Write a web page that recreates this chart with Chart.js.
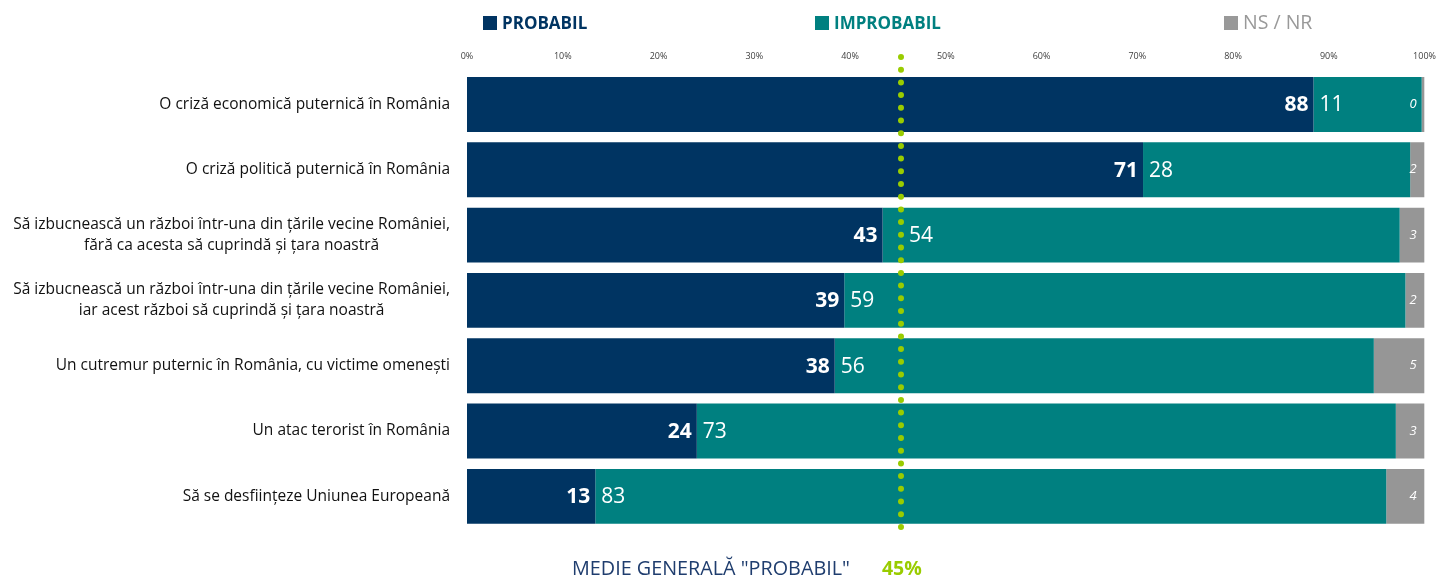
<!DOCTYPE html>
<html>
<head>
<meta charset="utf-8">
<script src="https://cdn.jsdelivr.net/npm/chart.js@4"></script>
<style>
  html, body { margin: 0; padding: 0; background: #fff; }
  body { width: 1438px; height: 579px; position: relative; overflow: hidden; font-family: "Open Sans", sans-serif; }
  #wrap { position: absolute; left: 0; top: 0; width: 1438px; height: 579px; }
  .leg { position: absolute; top: 11px; font-size: 17px; line-height: 24px; white-space: nowrap; }
  .leg i { display: inline-block; width: 14px; height: 14px; margin-right: 5px; vertical-align: -1px; }
  #foot { position: absolute; top: 555px; left: 572px; font-size: 19.8px; line-height: 26px; color: #1f3d6e; white-space: nowrap; }
  #foot b { color: #99cc00; margin-left: 32px; font-size: 19.5px; }
</style>
</head>
<body>
<div id="wrap"><canvas id="chart" width="1438" height="579"></canvas></div>
<div class="leg" style="left:483px;color:#003462;font-weight:700"><i style="background:#003462"></i>PROBABIL</div>
<div class="leg" style="left:815px;color:#008080;font-weight:700"><i style="background:#008080"></i>IMPROBABIL</div>
<div class="leg" style="left:1224px;color:#999;font-size:19.5px;top:10px"><i style="background:#999"></i>NS / NR</div>
<div id="foot">MEDIE GENERALĂ "PROBABIL"<b>45%</b></div>
<script>
const categories = [
    ["O criză economică puternică în România"],
    ["O criză politică puternică în România"],
    ["Să izbucnească un război într-una din țările vecine României,", "fără ca acesta să cuprindă și țara noastră"],
    ["Să izbucnească un război într-una din țările vecine României,", "iar acest război să cuprindă și țara noastră"],
    ["Un cutremur puternic în România, cu victime omenești"],
    ["Un atac terorist în România"],
    ["Să se desființeze Uniunea Europeană"]
];
const probabil = [88.4, 70.6, 43.4, 39.4, 38.4, 24.0, 13.4];
const improbabil = [11.3, 27.9, 54.0, 58.6, 56.3, 73.0, 82.6];
const nsnr = [0.3, 1.5, 2.6, 2.0, 5.3, 3.0, 4.0];
const xTicks = [0, 10, 20, 30, 40, 50, 60, 70, 80, 90, 100];
const average = 45;

const FONT = '"Open Sans", sans-serif';

// category labels, multi-line ones centred on each other
const labelsPlugin = {
    id: "catLabels",
    afterDraw(chart) {
        const ctx = chart.ctx;
        const y = chart.scales.y;
        ctx.save();
        ctx.font = "15.5px " + FONT;
        ctx.fillStyle = "#111";
        ctx.textBaseline = "middle";
        ctx.textAlign = "center";
        const right = 450;
        categories.forEach((lines, i) => {
            const cy = y.getPixelForValue(i);
            const w = Math.max(...lines.map(l => ctx.measureText(l).width));
            const cx = right - w / 2;
            const lh = 21;
            lines.forEach((l, j) => {
                ctx.fillText(l, cx, cy + (j - (lines.length - 1) / 2) * lh);
            });
        });
        ctx.restore();
    }
};

// values inside the bars
const valuesPlugin = {
    id: "barValues",
    afterDatasetsDraw(chart) {
        const ctx = chart.ctx;
        const avgX = chart.scales.x.getPixelForValue(average) + 3;
        ctx.save();
        ctx.fillStyle = "#fff";
        ctx.textBaseline = "middle";
        chart.getDatasetMeta(0).data.forEach((bar, i) => {
            ctx.font = "bold 21px " + FONT;
            ctx.textAlign = "right";
            ctx.fillText(Math.round(probabil[i]), bar.x - 5, bar.y + 1);
        });
        chart.getDatasetMeta(1).data.forEach((bar, i) => {
            ctx.font = "21px " + FONT;
            ctx.textAlign = "left";
            let x = bar.base + 6;
            // keep the label clear of the dotted line
            if (x < avgX + 6 && x + 30 > avgX - 6) x = avgX + 8;
            ctx.fillText(Math.round(improbabil[i]), x, bar.y + 1);
        });
        chart.getDatasetMeta(2).data.forEach((bar, i) => {
            ctx.font = "italic 13px " + FONT;
            ctx.textAlign = "right";
            ctx.fillText(Math.round(nsnr[i]), bar.x - 8, bar.y);
        });
        ctx.restore();
    }
};

// dotted average line
const avgPlugin = {
    id: "avgLine",
    afterDraw(chart) {
        const ctx = chart.ctx;
        const x = Math.round(chart.scales.x.getPixelForValue(average)) + 3;
        ctx.save();
        ctx.strokeStyle = "#99cc00";
        ctx.lineWidth = 6;
        ctx.lineCap = "round";
        ctx.setLineDash([0, 12.7]);
        ctx.beginPath();
        ctx.moveTo(x, 57);
        ctx.lineTo(x, 533);
        ctx.stroke();
        ctx.restore();
    }
};

new Chart(document.getElementById("chart"), {
    type: "bar",
    data: {
        labels: categories,
        datasets: [
            { label: "PROBABIL", data: probabil, backgroundColor: "#003462" },
            { label: "IMPROBABIL", data: improbabil, backgroundColor: "#008080" },
            { label: "NS / NR", data: nsnr, backgroundColor: "#969696" }
        ]
    },
    options: {
        indexAxis: "y",
        responsive: false,
        animation: false,
        events: [],
        layout: { padding: { top: 49, right: 13, bottom: 50, left: 0 } },
        datasets: { bar: { categoryPercentage: 1, barPercentage: 0.84 } },
        plugins: {
            legend: { display: false },
            tooltip: { enabled: false }
        },
        scales: {
            x: {
                position: "top",
                stacked: true,
                min: 0,
                max: 100,
                afterBuildTicks: s => { s.ticks = xTicks.map(v => ({ value: v })); },
                ticks: {
                    callback: v => v + "%",
                    font: { size: 9, family: FONT },
                    color: "#404040",
                    padding: 2
                },
                grid: { display: false },
                border: { display: false }
            },
            y: {
                stacked: true,
                ticks: { display: false },
                grid: { display: false },
                border: { display: false },
                afterFit: s => { s.width = 467; }
            }
        }
    },
    plugins: [labelsPlugin, valuesPlugin, avgPlugin]
});
</script>
</body>
</html>
